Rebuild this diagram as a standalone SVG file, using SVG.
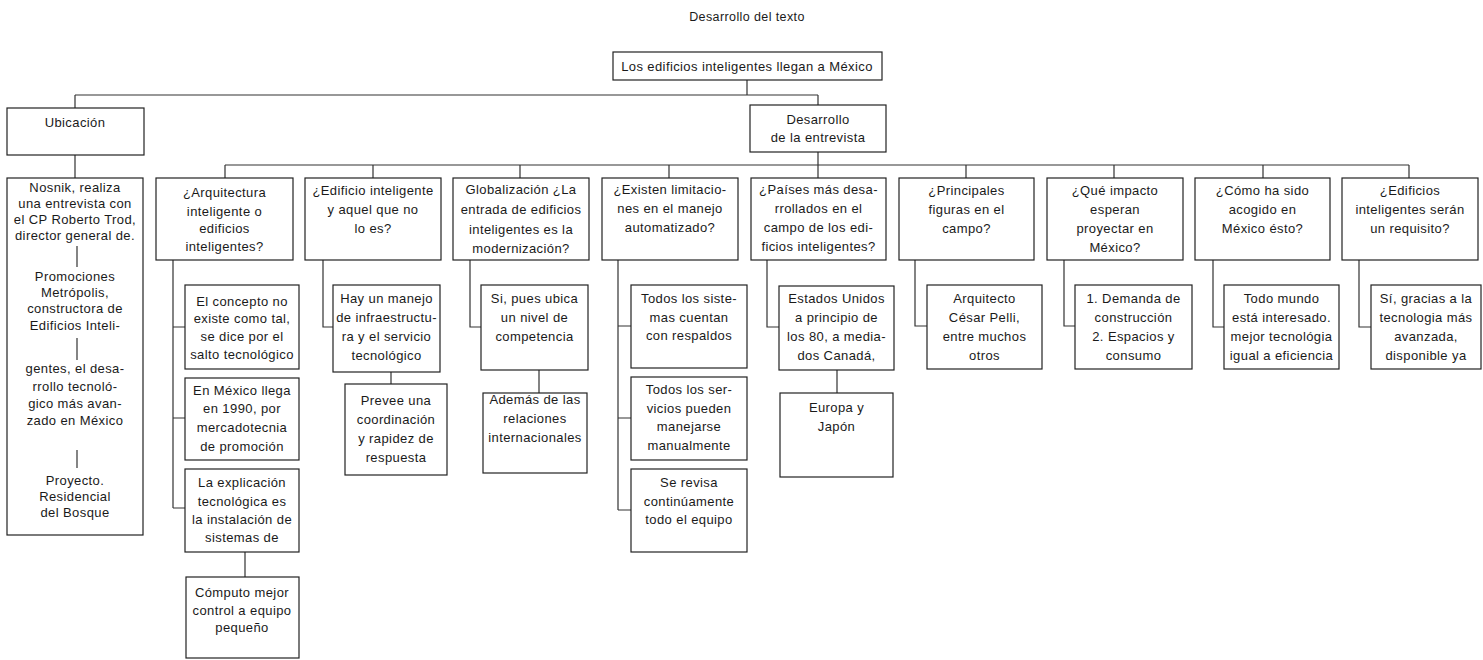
<svg xmlns="http://www.w3.org/2000/svg" width="1483" height="660" viewBox="0 0 1483 660">
<style>
  .bg{fill:#ffffff}
  .box{fill:#ffffff;stroke:#222;stroke-width:1.2}
  .t{font-family:"Liberation Sans",Arial,sans-serif;font-size:13px;letter-spacing:0.4px;fill:#1a1a1a;text-anchor:middle}
  .ttl{font-family:"Liberation Sans",Arial,sans-serif;font-size:12.5px;letter-spacing:0.4px;fill:#1a1a1a;text-anchor:middle}
  .c{fill:none;stroke:#333;stroke-width:1.2}
</style>
<rect class="bg" x="0" y="0" width="1483" height="660"/>
<text class="ttl" x="747" y="21">Desarrollo del texto</text>

<g id="connectors">
  <path class="c" d="M747 80 V95 M75 95 H818 M75 95 V108 M818 95 V105"/>
  <path class="c" d="M75 155 V178 M818 152 V165 M225 165 H1409"/>
  <path class="c" d="M225 165 V178 M373 165 V178 M520 165 V178 M669 165 V178 M818 165 V178 M966 165 V178 M1114 165 V178 M1263 165 V178 M1409 165 V178"/>
  <path class="c" d="M173 260 V508 M173 327 H185 M173 418 H185 M173 508 H185 M245 552 V577"/>
  <path class="c" d="M323 260 V327 H333 M391 372 V384"/>
  <path class="c" d="M470 260 V327 H481 M539 370 V393"/>
  <path class="c" d="M618 260 V510 M618 326 H631 M618 418 H631 M618 510 H631"/>
  <path class="c" d="M767 260 V327 H779 M837 370 V393"/>
  <path class="c" d="M915 260 V326 H927"/>
  <path class="c" d="M1064 260 V326 H1075"/>
  <path class="c" d="M1213 260 V327 H1224"/>
  <path class="c" d="M1359 260 V327 H1371"/>
</g>

<g id="root">
  <rect class="box" x="613" y="52" width="269" height="28"/>
  <text class="t" x="747" y="71">Los edificios inteligentes llegan a México</text>
</g>

<g id="ubicacion">
  <rect class="box" x="7" y="108" width="137" height="47"/>
  <text class="t" x="75" y="127">Ubicación</text>
</g>

<g id="desarrollo">
  <rect class="box" x="750" y="105" width="136" height="47"/>
  <text class="t" x="818" y="124">Desarrollo</text>
  <text class="t" x="818" y="142">de la entrevista</text>
</g>

<g id="nosnik">
  <rect class="box" x="7" y="178" width="136" height="357"/>
  <text class="t" x="75" y="192">Nosnik, realiza</text>
  <text class="t" x="75" y="208">una entrevista con</text>
  <text class="t" x="75" y="224">el CP Roberto Trod,</text>
  <text class="t" x="75" y="240">director general de.</text>
  <path class="c" d="M77 246 V267"/>
  <text class="t" x="75" y="281">Promociones</text>
  <text class="t" x="75" y="297">Metrópolis,</text>
  <text class="t" x="75" y="313">constructora de</text>
  <text class="t" x="75" y="330">Edificios Inteli-</text>
  <path class="c" d="M77 338 V360"/>
  <text class="t" x="75" y="373">gentes, el desa-</text>
  <text class="t" x="75" y="391">rrollo tecnoló-</text>
  <text class="t" x="75" y="408">gico más avan-</text>
  <text class="t" x="75" y="425">zado en México</text>
  <path class="c" d="M77 450 V468"/>
  <text class="t" x="75" y="485">Proyecto.</text>
  <text class="t" x="75" y="501">Residencial</text>
  <text class="t" x="75" y="517">del Bosque</text>
</g>

<g id="q1">
  <rect class="box" x="156" y="178" width="137" height="82"/>
  <text class="t" x="224.5" y="197">¿Arquitectura</text>
  <text class="t" x="224.5" y="216">inteligente o</text>
  <text class="t" x="224.5" y="233">edificios</text>
  <text class="t" x="224.5" y="251">inteligentes?</text>
</g>
<g id="q1c1">
  <rect class="box" x="185" y="285" width="114" height="84"/>
  <text class="t" x="242" y="306">El concepto no</text>
  <text class="t" x="242" y="323">existe como tal,</text>
  <text class="t" x="242" y="341">se dice por el</text>
  <text class="t" x="242" y="359">salto tecnológico</text>
</g>
<g id="q1c2">
  <rect class="box" x="185" y="378" width="114" height="82"/>
  <text class="t" x="242" y="395">En México llega</text>
  <text class="t" x="242" y="413">en 1990, por</text>
  <text class="t" x="242" y="432">mercadotecnia</text>
  <text class="t" x="242" y="451">de promoción</text>
</g>
<g id="q1c3">
  <rect class="box" x="185" y="469" width="114" height="83"/>
  <text class="t" x="242" y="487">La explicación</text>
  <text class="t" x="242" y="506">tecnológica es</text>
  <text class="t" x="242" y="524">la instalación de</text>
  <text class="t" x="242" y="542">sistemas de</text>
</g>
<g id="q1c4">
  <rect class="box" x="186" y="577" width="113" height="81"/>
  <text class="t" x="242" y="597">Cómputo  mejor</text>
  <text class="t" x="242" y="615">control a equipo</text>
  <text class="t" x="242" y="632">pequeño</text>
</g>

<g id="q2">
  <rect class="box" x="305" y="178" width="136" height="82"/>
  <text class="t" x="373" y="195">¿Edificio inteligente</text>
  <text class="t" x="373" y="214">y aquel que no</text>
  <text class="t" x="373" y="233">lo es?</text>
</g>
<g id="q2c1">
  <rect class="box" x="333" y="285" width="107" height="87"/>
  <text class="t" x="386.5" y="303">Hay un manejo</text>
  <text class="t" x="386.5" y="322">de infraestructu-</text>
  <text class="t" x="386.5" y="341">ra y el servicio</text>
  <text class="t" x="386.5" y="360">tecnológico</text>
</g>
<g id="q2c2">
  <rect class="box" x="345" y="384" width="102" height="91"/>
  <text class="t" x="396" y="405">Prevee una</text>
  <text class="t" x="396" y="424">coordinación</text>
  <text class="t" x="396" y="443">y rapidez de</text>
  <text class="t" x="396" y="462">respuesta</text>
</g>

<g id="q3">
  <rect class="box" x="453" y="178" width="136" height="82"/>
  <text class="t" x="521" y="194">Globalización ¿La</text>
  <text class="t" x="521" y="214">entrada de edificios</text>
  <text class="t" x="521" y="234">inteligentes es la</text>
  <text class="t" x="521" y="253">modernización?</text>
</g>
<g id="q3c1">
  <rect class="box" x="481" y="285" width="107" height="85"/>
  <text class="t" x="534.5" y="303">Si, pues ubica</text>
  <text class="t" x="534.5" y="322">un nivel de</text>
  <text class="t" x="534.5" y="341">competencia</text>
</g>
<g id="q3c2">
  <rect class="box" x="483" y="393" width="104" height="80"/>
  <text class="t" x="535" y="404">Además de las</text>
  <text class="t" x="535" y="423">relaciones</text>
  <text class="t" x="535" y="442">internacionales</text>
</g>

<g id="q4">
  <rect class="box" x="602" y="178" width="136" height="82"/>
  <text class="t" x="670" y="194">¿Existen limitacio-</text>
  <text class="t" x="670" y="213">nes en el manejo</text>
  <text class="t" x="670" y="232">automatizado?</text>
</g>
<g id="q4c1">
  <rect class="box" x="631" y="285" width="116" height="83"/>
  <text class="t" x="689" y="303">Todos los siste-</text>
  <text class="t" x="689" y="322">mas cuentan</text>
  <text class="t" x="689" y="340">con respaldos</text>
</g>
<g id="q4c2">
  <rect class="box" x="631" y="377" width="116" height="83"/>
  <text class="t" x="689" y="394">Todos los ser-</text>
  <text class="t" x="689" y="413">vicios pueden</text>
  <text class="t" x="689" y="431">manejarse</text>
  <text class="t" x="689" y="450">manualmente</text>
</g>
<g id="q4c3">
  <rect class="box" x="631" y="469" width="116" height="83"/>
  <text class="t" x="689" y="487">Se revisa</text>
  <text class="t" x="689" y="506">continúamente</text>
  <text class="t" x="689" y="524">todo el equipo</text>
</g>

<g id="q5">
  <rect class="box" x="751" y="178" width="135" height="82"/>
  <text class="t" x="818.5" y="194">¿Países más desa-</text>
  <text class="t" x="818.5" y="213">rrollados en el</text>
  <text class="t" x="818.5" y="232">campo de los edi-</text>
  <text class="t" x="818.5" y="251">ficios inteligentes?</text>
</g>
<g id="q5c1">
  <rect class="box" x="779" y="286" width="115" height="84"/>
  <text class="t" x="836.5" y="303">Estados Unidos</text>
  <text class="t" x="836.5" y="322">a principio de</text>
  <text class="t" x="836.5" y="341">los 80, a media-</text>
  <text class="t" x="836.5" y="360">dos Canadá,</text>
</g>
<g id="q5c2">
  <rect class="box" x="780" y="393" width="113" height="84"/>
  <text class="t" x="836.5" y="412">Europa y</text>
  <text class="t" x="836.5" y="431">Japón</text>
</g>

<g id="q6">
  <rect class="box" x="899" y="178" width="135" height="82"/>
  <text class="t" x="966.5" y="195">¿Principales</text>
  <text class="t" x="966.5" y="214">figuras en el</text>
  <text class="t" x="966.5" y="233">campo?</text>
</g>
<g id="q6c1">
  <rect class="box" x="927" y="285" width="115" height="84"/>
  <text class="t" x="984.5" y="303">Arquitecto</text>
  <text class="t" x="984.5" y="322">César Pelli,</text>
  <text class="t" x="984.5" y="341">entre muchos</text>
  <text class="t" x="984.5" y="360">otros</text>
</g>

<g id="q7">
  <rect class="box" x="1047" y="178" width="136" height="82"/>
  <text class="t" x="1115" y="195">¿Qué impacto</text>
  <text class="t" x="1115" y="214">esperan</text>
  <text class="t" x="1115" y="233">proyectar en</text>
  <text class="t" x="1115" y="252">México?</text>
</g>
<g id="q7c1">
  <rect class="box" x="1075" y="285" width="117" height="84"/>
  <text class="t" x="1133.5" y="303">1. Demanda de</text>
  <text class="t" x="1133.5" y="322">construcción</text>
  <text class="t" x="1133.5" y="341">2. Espacios y</text>
  <text class="t" x="1133.5" y="360">consumo</text>
</g>

<g id="q8">
  <rect class="box" x="1195" y="178" width="135" height="82"/>
  <text class="t" x="1262.5" y="195">¿Cómo ha sido</text>
  <text class="t" x="1262.5" y="214">acogido en</text>
  <text class="t" x="1262.5" y="233">México ésto?</text>
</g>
<g id="q8c1">
  <rect class="box" x="1224" y="285" width="115" height="84"/>
  <text class="t" x="1281.5" y="303">Todo mundo</text>
  <text class="t" x="1281.5" y="322">está interesado.</text>
  <text class="t" x="1281.5" y="341">mejor tecnológia</text>
  <text class="t" x="1281.5" y="360">igual a eficiencia</text>
</g>

<g id="q9">
  <rect class="box" x="1342" y="178" width="136" height="82"/>
  <text class="t" x="1410" y="195">¿Edificios</text>
  <text class="t" x="1410" y="214">inteligentes serán</text>
  <text class="t" x="1410" y="233">un requisito?</text>
</g>
<g id="q9c1">
  <rect class="box" x="1371" y="285" width="110" height="84"/>
  <text class="t" x="1426" y="303">Sí, gracias a la</text>
  <text class="t" x="1426" y="322">tecnologia más</text>
  <text class="t" x="1426" y="341">avanzada,</text>
  <text class="t" x="1426" y="360">disponible ya</text>
</g>
</svg>
